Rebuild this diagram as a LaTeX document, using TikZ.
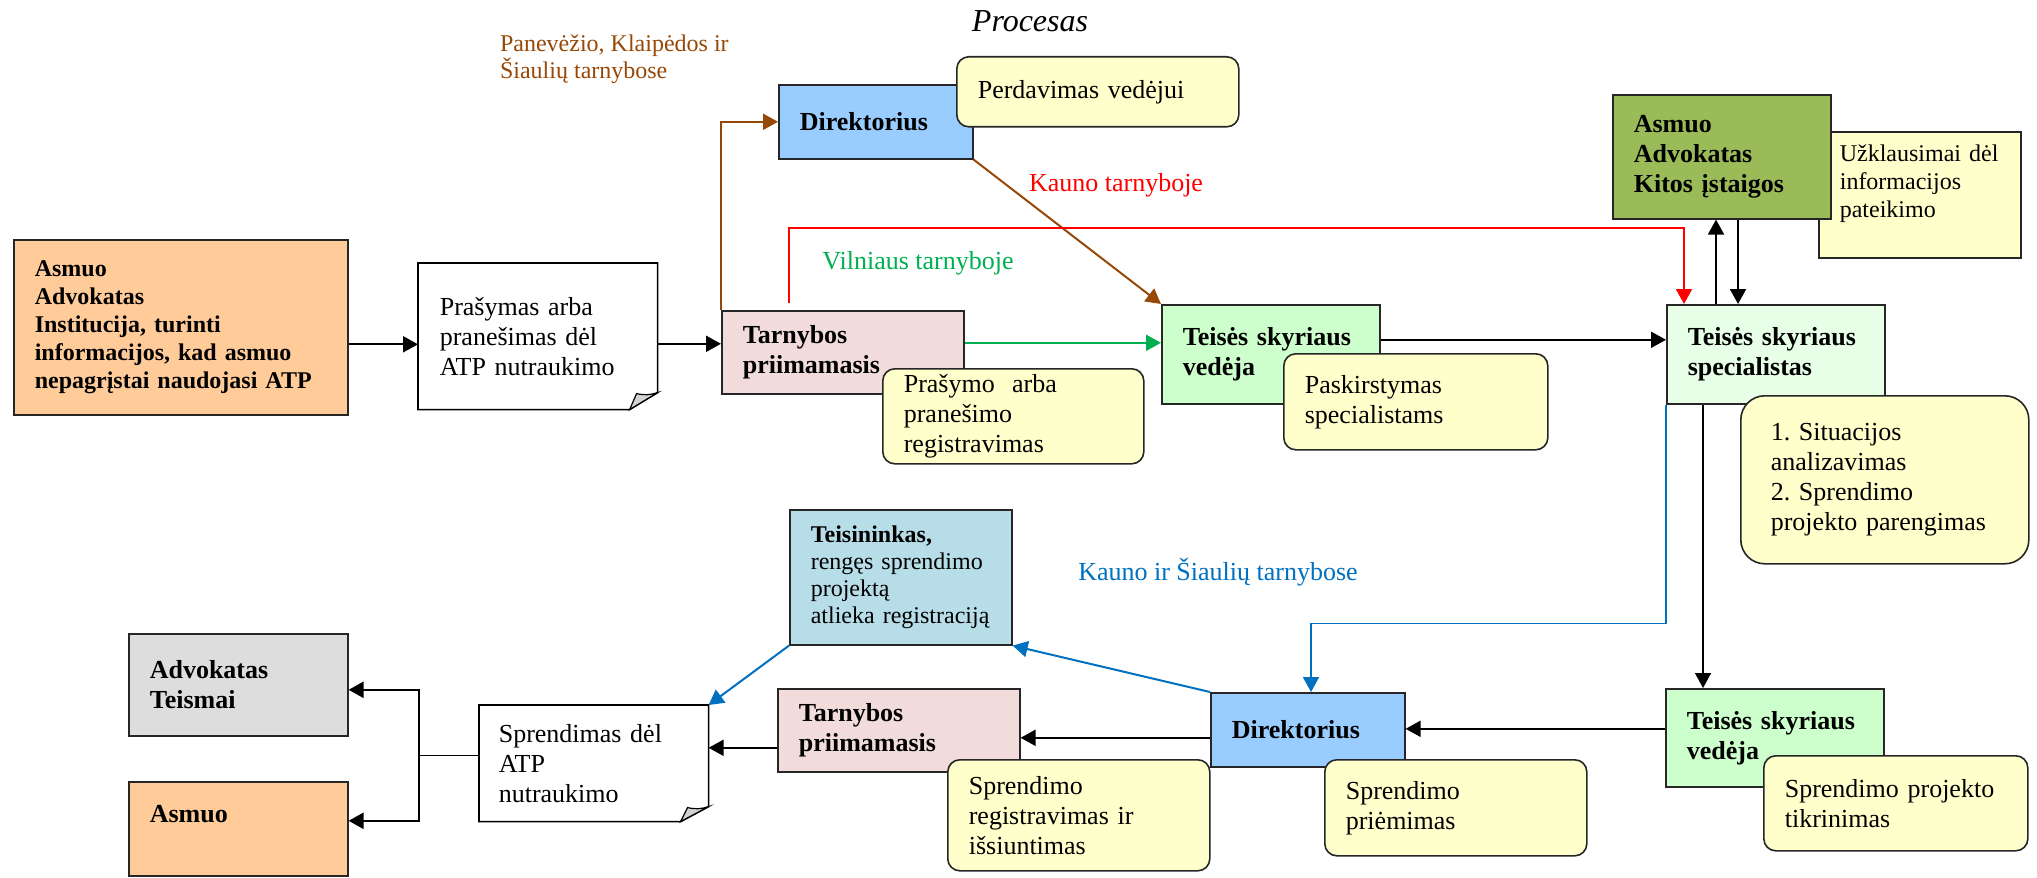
\documentclass[tikz,border=0pt]{standalone}
\usepackage{fontspec}
\setmainfont{Liberation Serif}
\usetikzlibrary{arrows.meta}
\frenchspacing

\definecolor{oranz}{HTML}{FFCC99}
\definecolor{melyna}{HTML}{99CCFF}
\definecolor{geltona}{HTML}{FFFFCC}
\definecolor{rozine}{HTML}{F2DCDB}
\definecolor{zalia}{HTML}{CCFFCC}
\definecolor{sviesiaizalia}{HTML}{E6FFE6}
\definecolor{alyvuoge}{HTML}{9BBB59}
\definecolor{zydra}{HTML}{B7DDE8}
\definecolor{pilka}{HTML}{DDDDDD}
\definecolor{ruda}{HTML}{984806}
\definecolor{zalialin}{HTML}{00B050}
\definecolor{melynalin}{HTML}{0070C0}

\begin{document}
\begin{tikzpicture}[x=0.5pt,y=-0.5pt,
  box/.style={draw=black!85, line width=0.8pt, anchor=north west, align=left,
    inner xsep=10.5pt, inner ysep=1pt, font=\fontsize{13}{15}\selectfont},
  boldtxt/.style={font=\fontsize{13}{15}\selectfont\bfseries},
  note/.style={box, rounded corners=6pt, fill=geltona},
  lbl/.style={font=\fontsize{13}{15}\selectfont},
  arr/.style={-{Triangle[length=7.5pt,width=8pt]}, line width=1pt}]

\useasboundingbox (0,0) rectangle (2037,877);

% virsutine eile
\node[box, fill=oranz, text width=146pt, minimum height=87.5pt,
  font=\fontsize{12}{14}\selectfont\bfseries] (asmuo) at (13,239)
  {Asmuo\\Advokatas\\Institucija, turinti\\informacijos, kad asmuo\\nepagrįstai naudojasi ATP};
\node[box, draw=none, text width=98pt, minimum height=72.5pt] (prasymas) at (418,263)
  {Prašymas arba\\pranešimas dėl\\ATP nutraukimo};
\node[box, boldtxt, fill=melyna, text width=76pt, minimum height=37pt] (direkt) at (778,84) {Direktorius};
\node[note, text width=120pt, minimum height=35pt] (perdav) at (956,56) {Perdavimas vedėjui};
\node[box, boldtxt, fill=rozine, text width=100pt, minimum height=41.5pt] (priim) at (721,310) {Tarnybos\\priimamasis};
\node[note, text width=109.5pt, minimum height=47.5pt] (registr) at (882,368) {Prašymo\ \ arba\\pranešimo\\registravimas};
\node[box, boldtxt, fill=zalia, text width=88pt, minimum height=49.5pt] (vedeja) at (1161,304) {Teisės skyriaus\\vedėja};
\node[note, text width=111pt, minimum height=48pt] (paskirst) at (1283,353) {Paskirstymas\\specialistams};
\node[box, boldtxt, fill=sviesiaizalia, text width=88pt, minimum height=49.5pt] (spec) at (1666,304) {Teisės skyriaus\\specialistas};
\node[box, fill=geltona, text width=80pt, minimum height=63pt,
  font=\fontsize{12}{14}\selectfont] (uzklaus) at (1818,131) {Užklausimai dėl\\informacijos\\pateikimo\\~};
\node[box, boldtxt, fill=alyvuoge, text width=88pt, minimum height=62pt] (kitos) at (1612,94) {Asmuo\\Advokatas\\Kitos įstaigos};
\node[note, rounded corners=12pt, inner xsep=15pt, text width=114pt, minimum height=84pt] (analiz) at (1740,395)
  {1. Situacijos\\analizavimas\\2. Sprendimo\\projekto parengimas};

% apatine eile
\node[box, boldtxt, fill=zalia, text width=88pt, minimum height=49pt] (vedeja2) at (1665,688) {Teisės skyriaus\\vedėja};
\node[note, text width=111pt, minimum height=47.5pt] (tikrin) at (1763,755) {Sprendimo projekto\\tikrinimas};
\node[box, boldtxt, fill=melyna, text width=76pt, minimum height=37pt] (direkt2) at (1210,692) {Direktorius};
\node[note, text width=110pt, minimum height=48pt] (priem) at (1324,759) {Sprendimo\\priėmimas};
\node[box, fill=zydra, text width=90pt, minimum height=67.5pt, font=\fontsize{12}{13.5}\selectfont] (teisin) at (789,509)
  {\textbf{Teisininkas,}\\rengęs sprendimo\\projektą\\atlieka registraciją};
\node[box, boldtxt, fill=rozine, text width=100pt, minimum height=41.5pt] (priim2) at (777,688) {Tarnybos\\priimamasis};
\node[note, text width=110pt, minimum height=55.5pt] (siunt) at (947,759) {Sprendimo\\registravimas ir\\išsiuntimas};
\node[box, draw=none, inner xsep=9.5pt, text width=95pt, minimum height=57.5pt] (sprend) at (479,705)
  {Sprendimas dėl\\ATP\\nutraukimo};
\node[box, boldtxt, fill=pilka, text width=88.5pt, minimum height=51pt] (advok) at (128,633) {Advokatas\\Teismai};
\node[box, boldtxt, fill=oranz, text width=88.5pt, minimum height=47pt] (asmuo2) at (128,781) {Asmuo\\~};

% dokumentai
\draw[line width=0.8pt] (prasymas.north west) -- (prasymas.north east) -- ([yshift=8.5pt]prasymas.south east)
  -- ([xshift=-14pt]prasymas.south east) -- (prasymas.south west) -- cycle;
\filldraw[fill=gray!35, line width=0.6pt] ([xshift=-14pt]prasymas.south east) -- ([xshift=-10.5pt,yshift=8pt]prasymas.south east)
  to[bend right=15] ([yshift=8.5pt]prasymas.south east) -- cycle;
\draw[line width=0.8pt] (sprend.north west) -- (sprend.north east) -- ([yshift=7.5pt]sprend.south east)
  -- ([xshift=-14pt]sprend.south east) -- (sprend.south west) -- cycle;
\filldraw[fill=gray!35, line width=0.6pt] ([xshift=-14pt]sprend.south east) -- ([xshift=-10.5pt,yshift=7pt]sprend.south east)
  to[bend right=15] ([yshift=7.5pt]sprend.south east) -- cycle;

% uzrasai
\node[font=\fontsize{16}{18}\selectfont\itshape] (pavad) at (1030,21) {Procesas};
\node[anchor=north west, align=left, text=ruda, font=\fontsize{12}{13.5}\selectfont] (pkst) at (493,28)
  {Panevėžio, Klaipėdos ir\\Šiaulių tarnybose};
\node[lbl, text=red] (kaun) at (1116,185) {Kauno tarnyboje};
\node[lbl, text=zalialin] (viln) at (918,263) {Vilniaus tarnyboje};
\node[lbl, text=melynalin] (ksiaul) at (1218,572) {Kauno ir Šiaulių tarnybose};

% rodykles
\draw[arr] ([yshift=-4pt]prasymas.west -| asmuo.east) -- ([yshift=-4pt]prasymas.west);
\draw[arr] ([yshift=4.25pt]priim.west -| prasymas.east) -- ([yshift=4.25pt]priim.west);
\draw[arr, ruda] (priim.north west) |- (direkt.west);
\draw[arr, ruda] (direkt.south east) -- (vedeja.north west);
\draw[arr, red] ([xshift=34pt,yshift=3.5pt]priim.north west) -- ++(0,-75) -| ([xshift=9pt]spec.north west);
\draw[arr, zalialin] ([yshift=4.75pt]priim.east) -- ([yshift=4.75pt]priim.east -| vedeja.west);
\draw[arr] ([yshift=7.25pt]vedeja.east) -- ([yshift=7.25pt]vedeja.east -| spec.west);
\draw[arr] ([xshift=25pt]spec.north west) -- ([xshift=25pt]spec.north west |- kitos.south);
\draw[arr] ([xshift=36pt]spec.north west |- kitos.south) -- ([xshift=36pt]spec.north west);
\draw[arr, line width=0.75pt] ([xshift=18.5pt]spec.south west) -- ([xshift=18.5pt]spec.south west |- vedeja2.north);
\draw[arr, melynalin, line width=0.8pt] (spec.south west) -- ++(0,219) -| ([xshift=50.5pt]direkt2.north west);
\draw[arr] ([yshift=4.5pt]vedeja2.west) -- ([yshift=4.5pt]vedeja2.west -| direkt2.east);
\draw[arr] ([yshift=-4pt]direkt2.west) -- ([yshift=-4pt]direkt2.west -| priim2.east);
\draw[arr] ([yshift=-8.75pt]priim2.west) -- ([yshift=-8.75pt]priim2.west -| sprend.east);
\draw[arr, melynalin] (direkt2.north west) -- (teisin.south east);
\draw[arr, melynalin] (teisin.south west) -- (sprend.north east);
\draw[line width=0.5pt] ([yshift=4pt]sprend.west) -- ++(-60,0) coordinate (sakota);
\draw[arr, line width=1.25pt] (sakota) |- ([yshift=-2.5pt]advok.east);
\draw[arr, line width=1.25pt] (sakota) |- ([yshift=4pt]asmuo2.east);
\end{tikzpicture}
\end{document}
